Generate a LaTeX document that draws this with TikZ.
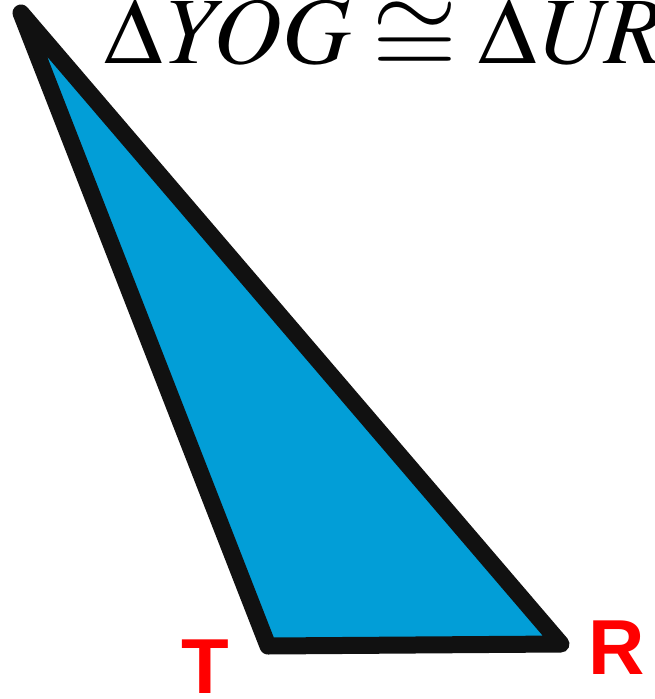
\documentclass[tikz,border=0pt]{standalone}
\usepackage{mathptmx}
\usepackage{fontspec}
\newfontfamily\vtxfont{Liberation Sans}
\definecolor{trifill}{RGB}{2,158,215}
\definecolor{triedge}{RGB}{17,17,17}
\definecolor{labelred}{RGB}{255,0,0}
\newcommand{\bigcong}{\mathrel{\raisebox{-0.12em}{\scalebox{1.15}[1.05]{$\cong$}}}}

\begin{document}
\begin{tikzpicture}[x=1pt,y=-1pt]
\tikzset{
  triside/.style={draw=triedge,fill=trifill,line width=17pt,line cap=round,line join=round},
  vertexlabel/.style={inner sep=0pt,text=labelred,font=\vtxfont\bfseries\fontsize{78}{78}\selectfont},
  titletext/.style={inner sep=0pt,anchor=base west,font=\fontsize{95}{95}\selectfont}
}
\useasboundingbox (0,0) rectangle (654,699);
\coordinate (v_U) at (21,13);
\coordinate (v_T) at (268,646);
\coordinate (v_R) at (561,644);
\path[triside] (v_U) -- (v_T) -- (v_R) -- cycle;
\node[titletext] (n_title) at (104,63) {$\Delta\mathit{YOG}\bigcong\Delta\mathit{URT}$};
\node[vertexlabel] (n_T) at (205,667) {T};
\node[vertexlabel] (n_R) at (617,648) {R};
\end{tikzpicture}
\end{document}
